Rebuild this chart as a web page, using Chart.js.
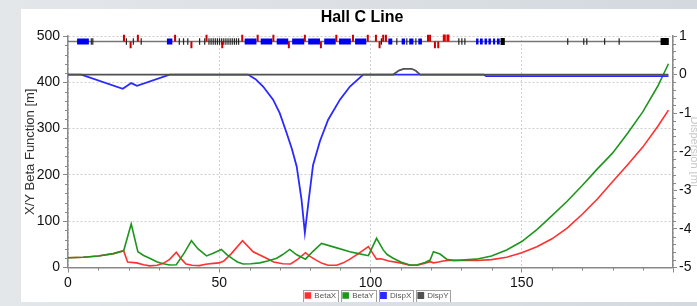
<!DOCTYPE html>
<html>
<head>
<meta charset="utf-8">
<script src="https://cdn.jsdelivr.net/npm/chart.js@4"></script>
<style>
  html, body { margin: 0; padding: 0; width: 697px; height: 306px; overflow: hidden; }
  body { position: relative; background: linear-gradient(to right, #e4e7ea, #d3d9df); }
  #panel { position: absolute; left: 21px; top: 9px; width: 676px; height: 293px; background: #fff; }
  #wrap { position: absolute; left: 21px; top: 9px; width: 682px; height: 293px; }
</style>
</head>
<body>
<div id="panel"></div>
<div id="wrap"><canvas id="optics"></canvas></div>
<script>
// beta functions [m] vs path length s [m]
const betaXs = [0, 5, 10, 15, 18.4, 19.7, 22.6, 25, 27, 29.5, 31.5, 33.6, 35.8, 37.5, 39, 41, 43.5, 45.5, 48, 50, 51.5, 54, 57.7, 61.2, 65.6, 68, 71, 73.6, 76, 78.5, 80, 82, 84, 86, 88.8, 91, 93.2, 96, 99.3, 102, 103.5, 106, 109.8, 113, 115.5, 118, 119.7, 120.8, 122.5, 124, 126.3, 130, 135, 140, 145, 150, 155, 160, 165, 170, 175, 180, 185, 190, 195, 198.5];
const betaXv = [21, 22, 25, 30, 36, 12, 10, 6, 3.5, 5, 9, 17.7, 33, 18, 7.5, 5, 4, 7, 9, 10, 14, 30, 58, 34, 20, 12, 8, 7.5, 18, 32, 24, 16, 9, 5, 5, 10, 18, 30, 45, 18, 19, 14, 10, 5, 5, 9, 12.5, 10, 12, 14, 16, 15, 15, 17, 22, 32, 45, 62, 85, 115, 148, 185, 222, 260, 305, 340];

const betaYs = [0, 5, 10, 15, 18.4, 20.9, 23.1, 25, 27, 29.5, 31.5, 33.6, 35.8, 38.5, 40.8, 43, 45.8, 48, 50.7, 52.5, 54.6, 56, 57.9, 60.5, 63.4, 66, 69, 71, 73.3, 75.5, 78.5, 81, 83.8, 88, 93.2, 96, 99.3, 102, 104.2, 105.5, 107.5, 110, 113, 115.5, 118, 119.7, 120.8, 123, 125.2, 127.4, 130, 135, 140, 145, 150, 155, 160, 165, 170, 175, 180, 185, 190, 195, 198.5];
const betaYv = [21, 22, 25, 30, 36, 94, 34, 26, 20, 12, 8, 5.4, 6, 32, 58, 40, 25, 31, 39, 28, 18, 12, 7.5, 8, 10, 14, 20, 28, 39, 28, 18, 35, 52, 44, 34, 30, 25.5, 63, 38, 28, 20, 12, 5.4, 6, 11, 16, 34, 29, 18, 15, 16, 18, 25, 38, 56, 82, 112, 143, 177, 213, 247, 290, 336, 392, 440];

// dispersion [m]
const dispXs = [0, 4.4, 18.1, 20.9, 22.8, 33.6, 59.5, 62, 64.5, 67.8, 70, 72.3, 74, 75.6, 77.2, 78.3, 79.5, 81, 83.3, 86, 89.9, 93.2, 97.6, 137.4, 138.2, 198.5];
const dispXv = [0, 0, -0.37, -0.22, -0.29, 0, 0, -0.12, -0.31, -0.65, -1.0, -1.52, -1.92, -2.38, -3.24, -4.1, -3.3, -2.35, -1.72, -1.17, -0.65, -0.31, 0, 0, -0.04, -0.04];
const dispYs = [0, 107.5, 109.5, 111, 113.6, 115, 116.4, 198.5];
const dispYv = [0, 0, 0.11, 0.15, 0.15, 0.1, 0, 0];

// beamline elements (s positions)
const latticeEnd = 198.6;
const quads = [[3.0, 6.9], [32.7, 34.5], [58.4, 62.3], [63.7, 67.5], [69, 72.8], [74.1, 78.1], [79.4, 83.3], [84.7, 88.5], [89.6, 93.5], [94.9, 98.6], [105.9, 107.2], [110.3, 111.4], [112.8, 114.2], [115.8, 117.0], [134.9, 135.7], [136.2, 137.1], [137.7, 138.5], [139, 139.8], [140.5, 141.2], [141.8, 142.7]];
const markers = [7.7, 8.2, 19.3, 21.6, 24.2, 36.8, 38.2, 39.6, 43.5, 45.2, 46.6, 47.3, 48, 48.7, 49.4, 50.1, 50.8, 51.5, 52.2, 52.9, 53.6, 54.3, 55, 55.7, 56.4, 103.6, 108.7, 112, 115, 129.2, 130.2, 131.2, 165.2, 170.5, 171.5, 177.4, 182.2];
const bendsUp = [18.5, 23.1, 35.4, 45.8, 57.6, 62.7, 67.9, 78.3, 88.7, 94.2, 99.1, 101.8, 104.2, 105.1, 119, 119.7];
const bendsDown = [20.7, 40.8, 51, 73, 83.6, 103, 121.3, 122.4];
const sextupoles = [[123.9, 124.9], [125.1, 126.1]];
const blocks = [[143, 144.4], [195.9, 198.6]];

const FONT = 'Liberation Sans, Arial, sans-serif';
const lineY = 0.86;

const pts = (s, v) => s.map((x, i) => ({x: x, y: v[i]}));
const spans = (list, y) => list.flatMap(([a, b]) => [{x: a, y: y}, {x: b, y: y}, {x: b, y: null}]);
const ticks = (list, lo, hi) => list.flatMap(s => [{x: s, y: lo}, {x: s, y: hi}, {x: s, y: null}]);

function curve(label, data, color, axis, order, width) {
  return {
    label: label, data: data, yAxisID: axis, order: order,
    borderColor: color, backgroundColor: color, borderWidth: width,
    pointRadius: 0, tension: 0, fill: false
  };
}
function element(data, color, width, order) {
  return {
    label: '', data: data, yAxisID: 'y2', order: order,
    borderColor: color, backgroundColor: color, borderWidth: width, borderCapStyle: 'butt',
    pointRadius: 0, tension: 0, fill: false, spanGaps: false, clip: false
  };
}

const minorTicks = {
  id: 'minorTicks',
  afterDraw(chart) {
    const {ctx, chartArea: a, scales} = chart;
    ctx.save();
    ctx.strokeStyle = '#888';
    ctx.lineWidth = 1;
    ctx.beginPath();
    for (let v = 10; v < 200; v += 10) {
      if (v % 50 === 0) continue;
      const p = Math.round(scales.x.getPixelForValue(v)) + 0.5;
      ctx.moveTo(p, a.bottom); ctx.lineTo(p, a.bottom + 3);
    }
    for (let v = 20; v < 500; v += 20) {
      if (v % 100 === 0) continue;
      const p = Math.round(scales.y.getPixelForValue(v)) + 0.5;
      ctx.moveTo(a.left - 3, p); ctx.lineTo(a.left, p);
    }
    for (let i = -24; i < 5; i++) {
      if (i % 5 === 0) continue;
      const p = Math.round(scales.y2.getPixelForValue(i / 5)) + 0.5;
      ctx.moveTo(a.right, p); ctx.lineTo(a.right + 3, p);
    }
    ctx.stroke();
    ctx.restore();
  }
};

const legendFrames = {
  id: 'legendFrames',
  afterLayout(chart) {
    const lg = chart.legend;
    lg.left += 15; lg.right += 15;
    lg.top -= 7.5;
    lg.bottom = chart.height;
    lg.height = lg.bottom - lg.top;
  },
  afterDraw(chart) {
    const ctx = chart.ctx;
    ctx.save();
    ctx.strokeStyle = '#a0a0a0';
    ctx.lineWidth = 1;
    for (const hb of chart.legend.legendHitBoxes) {
      ctx.strokeRect(Math.round(hb.left - 2) + 0.5, Math.round(hb.top - 2) + 0.5, Math.round(hb.width + 4), Math.round(hb.height + 4));
    }
    ctx.restore();
  }
};

new Chart(document.getElementById('optics'), {
  type: 'line',
  data: {
    datasets: [
      curve('BetaX', pts(betaXs, betaXv), '#ff3030', 'y', 4, 1.6),
      curve('BetaY', pts(betaYs, betaYv), '#1e961e', 'y', 3, 1.6),
      curve('DispX', pts(dispXs, dispXv), '#2a2aff', 'y2', 2, 1.8),
      curve('DispY', pts(dispYs, dispYv), '#505050', 'y2', 1, 1.8),
      element([{x: 0, y: lineY}, {x: latticeEnd, y: lineY}], '#777', 1.5, 0),
      element(spans(quads, lineY), '#0000f0', 6, -1),
      element(ticks(markers, 0.77, 0.94), '#222', 1.2, -1),
      element(ticks(bendsUp, lineY, 1.03), '#c80000', 2, -2),
      element(ticks(bendsDown, 0.68, lineY), '#c80000', 2, -2),
      element(spans(sextupoles, 0.95), '#e00000', 7, -2),
      element(spans(blocks, lineY), '#000', 7, -2)
    ]
  },
  options: {
    responsive: true,
    maintainAspectRatio: false,
    animation: false,
    events: [],
    layout: { padding: 0 },
    plugins: {
      title: {
        display: true, text: 'Hall C Line', color: '#000',
        font: { family: FONT, size: 16, weight: 'bold', lineHeight: 1.125 },
        padding: { top: 0, bottom: 9 }
      },
      legend: {
        position: 'bottom',
        maxHeight: 10,
        labels: {
          boxWidth: 5, boxHeight: 5, padding: 7, color: '#555',
          font: { family: FONT, size: 8 },
          filter: item => item.datasetIndex < 4,
          sort: (a, b) => a.datasetIndex - b.datasetIndex
        }
      },
      tooltip: { enabled: false }
    },
    scales: {
      x: {
        type: 'linear', min: 0, max: 200,
        afterFit: s => { s.height = 24.5; },
        ticks: {
          stepSize: 50, color: '#111', font: { family: FONT, size: 14 }, padding: 2, maxRotation: 0,
          callback: v => (v < 200 ? v : '')
        },
        grid: { color: '#cfcfcf', tickColor: '#888', tickLength: 5 },
        border: { color: '#888', width: 1.5, dash: [2, 2] }
      },
      y: {
        position: 'left', min: 0, max: 500,
        afterFit: s => { s.width = 47; },
        ticks: { stepSize: 100, color: '#111', font: { family: FONT, size: 14 }, padding: 3 },
        grid: { color: '#cfcfcf', tickColor: '#888', tickLength: 5 },
        border: { color: '#888', width: 1.5, dash: [2, 2] },
        title: { display: true, text: 'X/Y Beta Function [m]', color: '#333', font: { family: FONT, size: 13 }, padding: { top: 2, bottom: 0 } }
      },
      y2: {
        position: 'right', min: -5, max: 1,
        afterFit: s => { s.width = 30; },
        ticks: { stepSize: 1, color: '#111', font: { family: FONT, size: 14 }, padding: 2 },
        grid: { drawOnChartArea: false, color: '#888', tickLength: 4 },
        border: { color: '#888', width: 1.5 },
        title: { display: true, text: 'Dispersion [m]', color: '#c8c8c8', font: { family: FONT, size: 11 }, padding: { top: 2, bottom: 0 } }
      }
    }
  },
  plugins: [minorTicks, legendFrames]
});
</script>
</body>
</html>
